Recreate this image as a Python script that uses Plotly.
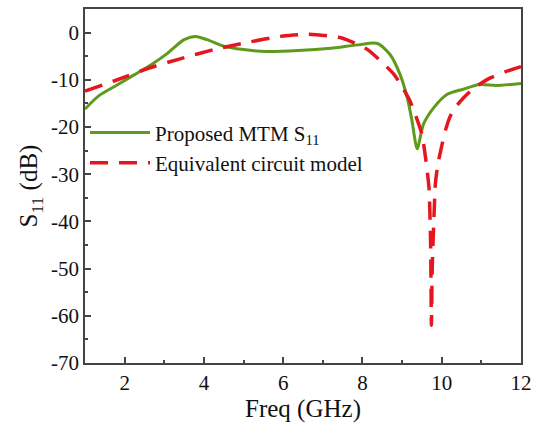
import plotly.graph_objects as go

# Proposed MTM S11 (green solid)
freq_mtm = [1.0, 1.33, 1.83, 2.25, 2.67, 3.08, 3.5, 3.8, 4.08, 4.5, 5.0, 5.58, 6.38, 7.2, 7.88,
            8.38, 8.7, 8.95, 9.13, 9.25, 9.38, 9.54, 9.79, 10.13, 10.54, 10.96, 11.38, 12.0]
s11_mtm = [-16.2, -13.5, -11.0, -8.9, -6.8, -4.4, -1.5, -0.8, -1.5, -2.9, -3.6, -4.0, -3.8, -3.3, -2.6,
           -2.3, -4.7, -8.9, -13.8, -18.7, -24.6, -19.4, -16.0, -13.1, -12.0, -11.0, -11.2, -10.8]

# Equivalent circuit model (red dashed)
freq_eq = [1.0, 1.75, 2.58, 3.42, 4.25, 5.08, 6.0, 6.63, 7.46, 8.13, 8.8, 9.2, 9.5, 9.6, 9.68,
           9.72, 9.74, 9.76, 9.8, 9.84, 9.9, 10.0, 10.1, 10.2, 10.3, 10.54, 10.8, 11.2, 11.6, 12.0]
s11_eq = [-12.4, -10.2, -7.6, -5.5, -3.6, -2.1, -0.7, -0.35, -1.1, -3.6, -8.9, -14.5, -21.5, -27.0, -33.0,
          -45.0, -62.0, -50.0, -40.0, -32.0, -28.0, -24.0, -20.5, -18.0, -16.3, -13.9, -11.8, -9.7, -8.3, -7.2]

x_ticks = [2, 4, 6, 8, 10, 12]
y_ticks = [0, -10, -20, -30, -40, -50, -60, -70]
y_tick_text = ["0", "-10", "-20", "-30", "-40", "-50", "-60", "-70"]

FONT = "Liberation Serif"
AX = "#444444"

fig = go.Figure()
fig.add_trace(go.Scatter(
    x=freq_mtm, y=s11_mtm, mode="lines", name="Proposed MTM S<sub>11</sub>",
    line=dict(color="#5f9a1c", width=3, shape="spline", smoothing=0.7),
    legendgroup="a"))
fig.add_trace(go.Scatter(
    x=freq_eq, y=s11_eq, mode="lines", name="Equivalent circuit model",
    line=dict(color="#e5161e", width=3.5, dash="18px,11px", shape="spline", smoothing=0.5),
    legendgroup="b"))

fig.update_layout(
    width=539, height=425,
    margin=dict(l=85, r=13, t=7, b=62),
    plot_bgcolor="white", paper_bgcolor="white",
    font=dict(family=FONT, size=21, color="#111111"),
    showlegend=True,
    legend=dict(x=0.0, y=0.708, xanchor="left", yanchor="top",
                bgcolor="rgba(0,0,0,0)", traceorder="grouped", tracegroupgap=0,
                itemwidth=60, font=dict(family=FONT, size=21)),
    xaxis=dict(range=[1, 12], tickvals=x_ticks, ticks="inside", ticklen=6, tickwidth=1.5,
               tickcolor=AX, showline=True, linecolor=AX, linewidth=1.5, mirror=True,
               showgrid=False, zeroline=False,
               minor=dict(dtick=1, tick0=1, ticks="inside", ticklen=3, tickcolor=AX, tickwidth=1.5),
               title=dict(text="Freq (GHz)", standoff=4)),
    yaxis=dict(range=[-70, 5], tickvals=y_ticks, ticktext=y_tick_text, ticks="inside", ticklen=6,
               tickwidth=1.5, tickcolor=AX, showline=True, linecolor=AX, linewidth=1.5, mirror=True,
               showgrid=False, zeroline=False,
               minor=dict(dtick=5, tick0=-5, ticks="inside", ticklen=3, tickcolor=AX, tickwidth=1.5),
               title=dict(text="S<sub>11</sub> (dB)", standoff=6)),
)

fig.write_html("out.html")
